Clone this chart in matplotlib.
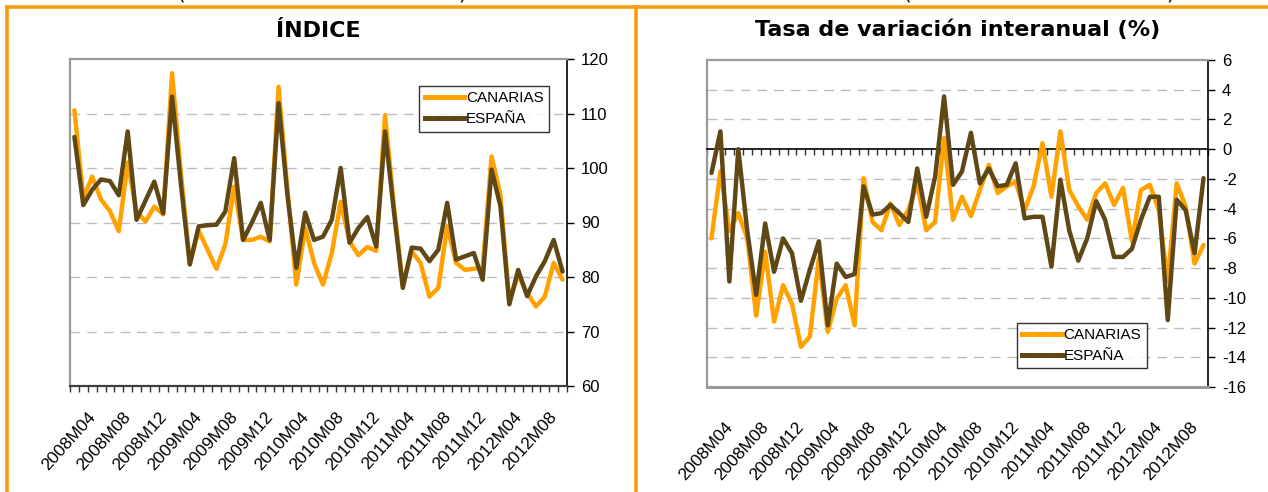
import matplotlib
matplotlib.use("Agg")
import matplotlib.pyplot as plt
import matplotlib.transforms as mtransforms
from matplotlib.lines import Line2D
import numpy as np

# ---------------- data ----------------
months = ["2008M04", "2008M05", "2008M06", "2008M07", "2008M08", "2008M09", "2008M10", "2008M11", "2008M12",
          "2009M01", "2009M02", "2009M03", "2009M04", "2009M05", "2009M06", "2009M07", "2009M08", "2009M09",
          "2009M10", "2009M11", "2009M12", "2010M01", "2010M02", "2010M03", "2010M04", "2010M05", "2010M06",
          "2010M07", "2010M08", "2010M09", "2010M10", "2010M11", "2010M12", "2011M01", "2011M02", "2011M03",
          "2011M04", "2011M05", "2011M06", "2011M07", "2011M08", "2011M09", "2011M10", "2011M11", "2011M12",
          "2012M01", "2012M02", "2012M03", "2012M04", "2012M05", "2012M06", "2012M07", "2012M08", "2012M09",
          "2012M10", "2012M11"]
tick_labels = ["2008M04", "2008M08", "2008M12", "2009M04", "2009M08", "2009M12", "2010M04",
               "2010M08", "2010M12", "2011M04", "2011M08", "2011M12", "2012M04", "2012M08"]

canarias_indice = [110.6, 94.5, 98.4, 94.2, 92.1, 88.4, 101.0, 92.0, 90.2, 92.9, 91.5, 117.4, 99.0, 82.5,
                   88.5, 85.0, 81.5, 86.0, 96.6, 86.8, 86.8, 87.4, 86.5, 114.9, 96.0, 78.6, 89.0, 82.6,
                   78.6, 84.4, 93.8, 86.5, 84.0, 85.5, 84.8, 109.7, 93.0, 78.5, 84.7, 82.6, 76.4, 78.0,
                   89.3, 82.6, 81.3, 81.5, 81.7, 102.1, 95.0, 75.5, 80.4, 77.1, 74.6, 76.4, 82.6, 79.5]
espana_indice = [105.7, 93.2, 96.0, 97.9, 97.6, 95.0, 106.7, 90.5, 94.0, 97.5, 91.7, 113.1, 97.0, 82.3,
                 89.3, 89.5, 89.6, 92.0, 101.8, 86.8, 90.0, 93.6, 86.8, 111.9, 95.0, 81.7, 91.8, 86.8,
                 87.4, 90.5, 100.0, 86.3, 89.0, 91.0, 85.6, 106.7, 92.0, 78.0, 85.4, 85.2, 82.9, 85.0,
                 93.6, 83.2, 83.8, 84.4, 79.5, 99.7, 93.0, 75.0, 81.3, 76.5, 80.1, 82.9, 86.8, 81.0]

canarias_tasa = [-6.0, -1.5, -5.5, -4.3, -6.0, -11.2, -6.9, -11.6, -9.15, -10.4, -13.3, -12.6, -7.35, -12.3,
                 -10.05, -9.15, -11.85, -1.95, -4.9, -5.45, -3.65, -5.1, -4.1, -2.3, -5.45, -4.9, 0.75, -4.75,
                 -3.2, -4.5, -2.75, -1.05, -2.95, -2.5, -2.2, -4.1, -2.5, 0.4, -3.2, 1.2, -2.75, -3.85,
                 -4.75, -2.95, -2.3, -3.75, -2.6, -6.2, -2.75, -2.4, -4.1, -8.9, -2.3, -3.85, -7.7, -6.45]
espana_tasa = [-1.6, 1.2, -8.9, 0.0, -5.5, -9.8, -5.0, -8.25, -6.0, -7.0, -10.2, -8.1, -6.2, -11.85,
               -7.7, -8.6, -8.4, -2.5, -4.4, -4.3, -3.75, -4.3, -4.9, -1.3, -4.55, -1.85, 3.55, -2.4,
               -1.5, 1.1, -2.3, -1.3, -2.5, -2.4, -0.95, -4.65, -4.55, -4.55, -7.9, -2.05, -5.5, -7.5,
               -6.0, -3.5, -4.75, -7.25, -7.25, -6.7, -4.75, -3.2, -3.2, -11.5, -3.4, -4.1, -7.0, -1.95]

series_names = ["CANARIAS", "ESPAÑA"]
titles = ["ÍNDICE", "Tasa de variación interanual (%)"]

# ---------------- style ----------------
C_ORANGE = "#FFA200"
C_BROWN = "#5F4816"
C_FRAME = "#F99B0C"
C_GRID = "#BDBDBD"
C_BORDER = "#9A9A9A"
LW = 3.2
TICK_FONT = "Liberation Sans"

fig = plt.figure(figsize=(12.68, 4.92), dpi=100)
W, H = 1268, 492


def fig_rect(x0, y0, x1, y1):
    return [x0 / W, 1 - y1 / H, (x1 - x0) / W, (y1 - y0) / H]


x = np.arange(len(months))
label_pos = [months.index(m) for m in tick_labels]


def style_axes(ax, ylim, yticks, grid_vals, label_dy_px):
    ax.set_xlim(-0.5, len(months) - 0.5)
    ax.set_ylim(*ylim)
    ax.yaxis.tick_right()
    ax.set_yticks(yticks)
    ax.set_yticklabels([f"{v:g}" for v in yticks], fontsize=12, family=TICK_FONT)
    ax.tick_params(axis="y", direction="out", length=5, width=1, color="black", pad=5)
    for g in grid_vals:
        ax.axhline(g, color=C_GRID, lw=1, dashes=(7, 5), zorder=0)
    ax.set_xticks(np.arange(-0.5, len(months), 1.0))
    ax.set_xticklabels([])
    ax.tick_params(axis="x", direction="out", length=4, width=1, color="#303030")
    for sp in ["top", "left"]:
        ax.spines[sp].set_color(C_BORDER)
        ax.spines[sp].set_linewidth(1.6)
    ax.spines["right"].set_color("black")
    ax.spines["right"].set_linewidth(1.2)
    # rotated category labels
    off = mtransforms.ScaledTranslation(13 / 100, -label_dy_px / 100, fig.dpi_scale_trans)
    base = mtransforms.blended_transform_factory(ax.transData, ax.transAxes)
    for p, lab in zip(label_pos, tick_labels):
        ax.text(p, 0, lab, transform=base + off, rotation=48, rotation_mode="anchor",
                ha="right", va="top", fontsize=12.5, family=TICK_FONT, clip_on=False)


# ---- left panel ----
ax1 = fig.add_axes(fig_rect(70, 59, 567, 386))
ax1.plot(x, canarias_indice, color=C_ORANGE, lw=LW, solid_joinstyle="round", solid_capstyle="round", zorder=3)
ax1.plot(x, espana_indice, color=C_BROWN, lw=LW, solid_joinstyle="round", solid_capstyle="round", zorder=4)
style_axes(ax1, (60, 120), [60, 70, 80, 90, 100, 110, 120], [70, 80, 90, 100, 110], 23)
ax1.spines["bottom"].set_color("#404040")
ax1.spines["bottom"].set_linewidth(1.6)

# ---- right panel ----
ax2 = fig.add_axes(fig_rect(707, 60, 1208, 387))
ax2.plot(x, canarias_tasa, color=C_ORANGE, lw=LW, solid_joinstyle="round", solid_capstyle="round", zorder=3)
ax2.plot(x, espana_tasa, color=C_BROWN, lw=LW, solid_joinstyle="round", solid_capstyle="round", zorder=4)
style_axes(ax2, (-16, 6), list(range(-16, 7, 2)), [v for v in range(-14, 6, 2) if v != 0], 32)
ax2.spines["bottom"].set_position(("data", 0))
ax2.spines["bottom"].set_color("black")
ax2.spines["bottom"].set_linewidth(1.2)
ax2.axhline(-16, color=C_BORDER, lw=2.2, clip_on=False, zorder=5)

# legends
handles = [Line2D([], [], color=C_ORANGE, lw=LW + 0.4), Line2D([], [], color=C_BROWN, lw=LW + 0.4)]
for ax, loc, anchor in [(ax1, "upper right", (0.964, 0.917)), (ax2, "upper left", (0.619, 0.196))]:
    leg = ax.legend(handles, series_names, loc=loc, bbox_to_anchor=anchor, frameon=True, fancybox=False,
                    prop={"family": TICK_FONT, "size": 11}, handlelength=2.6, handletextpad=0.1,
                    borderpad=0.35, labelspacing=0.45, borderaxespad=0)
    leg.get_frame().set_edgecolor("black")
    leg.get_frame().set_linewidth(1.0)
    leg.set_zorder(10)

# titles
fig.text(318.5 / W, 1 - 37 / H, titles[0], ha="center", va="baseline", fontsize=16, fontweight="bold",
         family="DejaVu Sans")
fig.text(957.5 / W, 1 - 36 / H, titles[1], ha="center", va="baseline", fontsize=16, fontweight="bold",
         family="DejaVu Sans")

# cut-off parentheses at the very top (only their lower ends are visible in the source)
for px, ch in [(181, "("), (462, ")"), (907, "("), (1170, ")")]:
    fig.text(px / W, 1 + 1 / H, ch, ha="center", va="baseline", fontsize=14, family="DejaVu Sans")

# orange frame
frame_kw = dict(color=C_FRAME, lw=2.6, transform=fig.transFigure, clip_on=False)
fig.add_artist(Line2D([7 / W, 1], [1 - 7 / H, 1 - 7 / H], **frame_kw))
fig.add_artist(Line2D([7 / W, 7 / W], [0, 1 - 7 / H], **frame_kw))
fig.add_artist(Line2D([636 / W, 636 / W], [0, 1 - 7 / H], **frame_kw))

fig.savefig("out.png", dpi=100)
